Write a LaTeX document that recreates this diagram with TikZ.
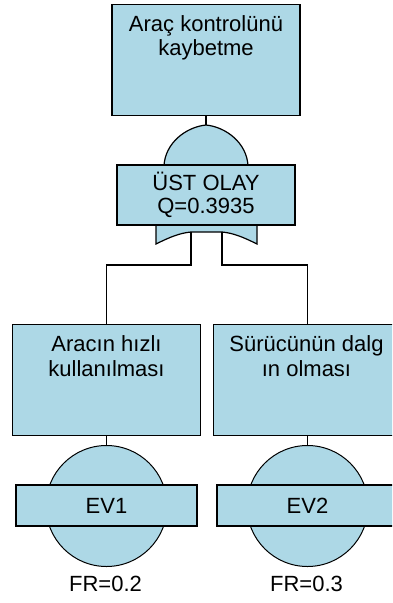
\documentclass[tikz,border=0pt]{standalone}
\usepackage{fontspec}
\setmainfont{Liberation Sans}
\definecolor{evfill}{RGB}{173,216,230}
\begin{document}
\begin{tikzpicture}[x=1pt,y=-1pt,
  every node/.style={inner sep=0pt, outer sep=0pt},
  ink/.style={draw=black, line width=1.2pt},
  evbox/.style={ink, fill=evfill, minimum width=188pt, minimum height=111pt},
  tagbox/.style={ink, fill=evfill, minimum width=181pt, minimum height=41pt,
    font=\fontsize{22pt}{25pt}\selectfont},
  gatebox/.style={ink, fill=evfill, minimum width=178pt, minimum height=60pt},
  basic/.style={ink, fill=evfill, line width=1pt, circle, minimum size=121pt},
  lbl/.style={font=\fontsize{22pt}{25pt}\selectfont, anchor=base},
  wire/.style={draw=black, line width=1.2pt}
]
\useasboundingbox (0,0) rectangle (392,603);
\clip (0,0) rectangle (392,603);

% top event
\node[evbox] (top) at (206,60) {};
\node[lbl] (topA) at (206,31) {Araç kontrolünü};
\node[lbl] (topB) at (206,55) {kaybetme};

% OR gate
\coordinate (gtop) at (206,125);
\coordinate (gl) at (191,232);
\coordinate (gr) at (222,232);
\filldraw[ink, fill=evfill] (164,166) .. controls (165,143) and (186,127) .. (gtop)
  .. controls (226,127) and (247,143) .. (248,166) -- cycle;
\filldraw[ink, fill=evfill] (156,224) -- (156,244)
  .. controls (170,237) and (180,233) .. (gl) -- (gr)
  .. controls (233,233) and (243,237) .. (257,244) -- (257,224) -- cycle;
\node[gatebox] (gate) at (206,195) {};
\node[lbl] (gateA) at (206,190) {ÜST OLAY};
\node[lbl] (gateB) at (206,213) {Q=0.3935};

% intermediate events
\node[evbox] (left) at (106.5,380) {};
\node[lbl] (leftA) at (106.5,351) {Aracın hızlı};
\node[lbl] (leftB) at (106.5,376) {kullanılması};
\node[evbox] (right) at (307.5,380) {};
\node[lbl] (rightA) at (306.5,351) {Sürücünün dalg};
\node[lbl] (rightB) at (306.5,376) {ın olması};

% basic events
\node[basic] (c1) at (106.5,506) {};
\node[basic] (c2) at (307.5,506) {};
\node[tagbox] (e1) at (106.5,505.5) {EV1};
\node[tagbox] (e2) at (307.5,505.5) {EV2};
\node[lbl] (fr1) at (105.5,591) {FR=0.2};
\node[lbl] (fr2) at (306.5,591) {FR=0.3};

% connectors
\draw[wire] (top.south) -- (gtop);
\draw[wire] (gl) -- ++(0,33) -| (left.north);
\draw[wire] (gr) -- ++(0,33) -| (right.north);
\draw[wire] (left.south) -- (c1.north);
\draw[wire] (right.south) -- (c2.north);
\end{tikzpicture}
\end{document}
